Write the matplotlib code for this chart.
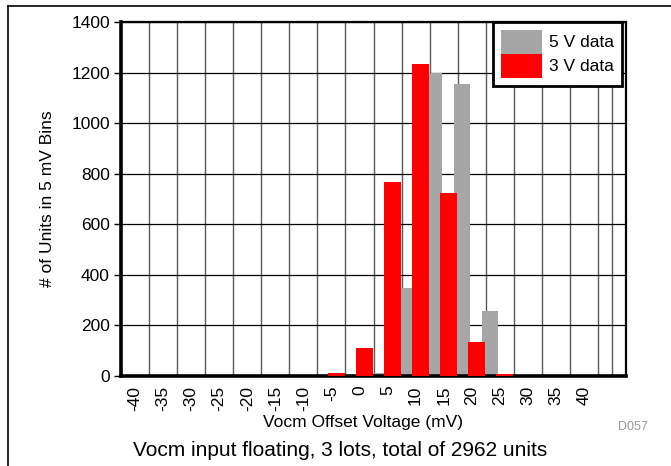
import matplotlib.pyplot as plt
import numpy as np

plt.rcParams['font.family'] = ['Liberation Sans', 'DejaVu Sans']

# bins de 5 mV (o último, 45, fica sem rótulo)
bins = np.arange(-40, 46, 5)
tick_labels = [str(b) for b in range(-40, 41, 5)]

# contagens
v5_data = [0, 0, 0, 0, 0, 0, 0, 0, 0, 12, 348, 1200, 1155, 258, 4, 0, 0, 0]
v3_data = [0, 0, 0, 0, 0, 0, 0, 10, 111, 767, 1235, 723, 136, 8, 0, 1, 0, 0]

fig = plt.figure(figsize=(6.71, 4.66), dpi=100)
W, H = 671, 466
ax = fig.add_axes([121 / W, (H - 376) / H, (626 - 121) / W, (376 - 22) / H])

# moldura da figura (linha superior e esquerda)
fig.add_artist(plt.Line2D([8 / W, 1], [1 - 6 / H, 1 - 6 / H], color='black', lw=1.2))
fig.add_artist(plt.Line2D([8 / W, 8 / W], [0, 1 - 6 / H], color='black', lw=1.2))

ax.bar(bins - 1.75, v5_data, width=2.96, color='#A6A6A6', zorder=2, label='5 V data')
ax.bar(bins + 0.87, v3_data, width=2.96, color='#FF0000', zorder=3, label='3 V data')

ax.set_xlim(-42.5, 47.5)
ax.set_ylim(0, 1400)
ax.set_xticks(np.arange(-40, 41, 5))
ax.set_xticklabels(tick_labels, rotation=90, fontsize=12.5)
ax.set_xticks(np.arange(-40, 47.6, 2.5), minor=True)
ax.set_yticks(np.arange(0, 1401, 200))
ax.tick_params(axis='y', labelsize=12.5, length=5, width=1, pad=3)
ax.tick_params(axis='x', which='both', length=0, pad=7)

ax.grid(axis='x', which='minor', color='#5A5A5A', lw=1.0, zorder=0)
ax.grid(axis='y', which='major', color='black', lw=0.9, zorder=0)
ax.set_axisbelow(True)

for s in ['left', 'bottom']:
    ax.spines[s].set_linewidth(2.6)
for s in ['top', 'right']:
    ax.spines[s].set_linewidth(1.6)

fig.text(48 / W, 1 - 199 / H, '# of Units in 5 mV Bins', rotation=90,
         ha='center', va='center', fontsize=12.5)
fig.text(363 / W, 1 - 423 / H, 'Vocm Offset Voltage (mV)', ha='center', va='center', fontsize=12.5)
fig.text(340 / W, 1 - 451 / H, 'Vocm input floating, 3 lots, total of 2962 units',
         ha='center', va='center', fontsize=15)
fig.text(633 / W, 1 - 427 / H, 'D057', ha='center', va='center', fontsize=9, color='#999999')

leg = ax.legend(loc='upper right', bbox_to_anchor=(0.992, 1.0), fontsize=12.5,
                frameon=True, fancybox=False, borderaxespad=0, handlelength=2.4,
                handleheight=1.75, labelspacing=0, handletextpad=0.4,
                borderpad=0.45)
leg.get_frame().set_edgecolor('black')
leg.get_frame().set_linewidth(2)
leg.get_frame().set_alpha(1)

fig.savefig('out.png', dpi=100)
